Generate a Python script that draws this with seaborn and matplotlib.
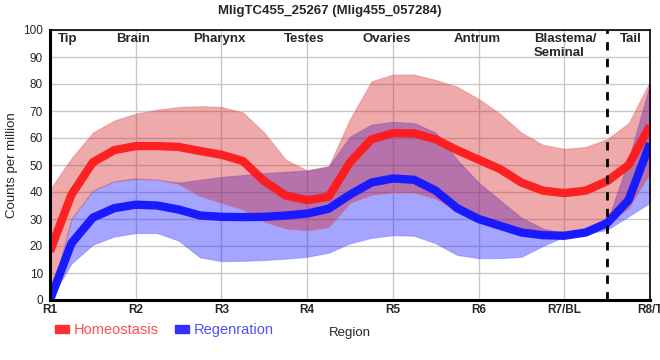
import numpy as np
import matplotlib
matplotlib.use("Agg")
import matplotlib.pyplot as plt
from matplotlib.patches import Patch
import seaborn as sns

# positions along the body (R1 .. R8/T), quarter-region steps
pos = [1.0, 1.25, 1.5, 1.75, 2.0, 2.25, 2.5, 2.75, 3.0, 3.25, 3.5, 3.75, 4.0, 4.25,
       4.5, 4.75, 5.0, 5.25, 5.5, 5.75, 6.0, 6.25, 6.5, 6.75, 7.0, 7.25, 7.5, 7.75, 8.0]

# Homeostasis: mean and band
homeo_mean = [18, 39, 51, 55.5, 57, 57, 56.7, 55.2, 53.8, 51.5, 44, 38.7, 37, 38.2,
              51, 59.5, 61.8, 61.7, 59.5, 55.5, 52, 48.5, 43.5, 40.5, 39.6, 40.5, 44, 50, 64.5]
homeo_hi = [41, 52.5, 62, 66.5, 69, 70.5, 71.5, 71.8, 71.5, 69.5, 62, 52, 48, 49.5,
            67, 81, 83.5, 83.5, 81.5, 79, 74.5, 69, 62, 57.5, 56, 56.7, 59.6, 65.5, 81]
homeo_lo = [0, 30, 40.5, 44, 44.8, 44.6, 43, 38.5, 36, 33.5, 29, 26.5, 25.8, 27,
            36, 39, 39.8, 39.8, 37.5, 33, 29.6, 27, 25, 24, 23.5, 25, 28.5, 34, 47]

# Regeneration: mean and band
regen_mean = [0, 21, 30.5, 34, 35.3, 35, 33.5, 31.3, 30.8, 30.7, 30.8, 31.3, 32, 33.8,
              39, 43.5, 45, 44.5, 40.5, 34, 30, 27.5, 25, 24, 23.8, 25, 28.5, 37, 58]
regen_hi = [0, 30, 40.5, 44, 45, 44.5, 43.5, 44.5, 45.6, 46.3, 47, 47.5, 48, 49.5,
            60.5, 65, 66, 65.5, 62, 52, 43.5, 37, 30.5, 26.5, 24.7, 25.5, 29, 52, 80]
regen_lo = [0, 13.5, 20.5, 23.5, 24.8, 24.8, 22, 15.8, 14.4, 14.5, 14.8, 15.3, 16, 17.5,
            21, 23, 24, 23.8, 21, 16.7, 15.5, 15.5, 16, 20, 23.5, 24.5, 26, 31, 36]

tick_pos = [1, 2, 3, 4, 5, 6, 7, 8]
tick_labels = ["R1", "R2", "R3", "R4", "R5", "R6", "R7/BL", "R8/T"]
regions = ["Tip", "Brain", "Pharynx", "Testes", "Ovaries", "Antrum", "Blastema/\nSeminal", "Tail"]
region_x = [1.21, 1.97, 2.97, 3.96, 4.93, 5.98, 7.01, 7.78]

sns.set_style("whitegrid")
plt.rcParams["font.family"] = ["Liberation Sans", "DejaVu Sans"]

fig = plt.figure(figsize=(6.6, 3.6), dpi=100)
ax = fig.add_axes([50 / 660, 60 / 360, 600 / 660, 270 / 360])

red = "#ff1a1a"
blue = "#1a1aff"

# regeneration first so the homeostasis band tints it purple
ax.fill_between(pos, regen_lo, regen_hi, color="#2020ff", alpha=0.4, lw=0.8, edgecolor="#6060ff")
sns.lineplot(x=pos, y=regen_mean, ax=ax, color=blue, lw=6, solid_capstyle="butt",
             solid_joinstyle="round")
ax.fill_between(pos, homeo_lo, homeo_hi, color="#d42020", alpha=0.38, lw=0.8, edgecolor="#e06060")
sns.lineplot(x=pos, y=homeo_mean, ax=ax, color=red, lw=6, alpha=0.95, solid_capstyle="butt",
             solid_joinstyle="round")

ax.axvline(7.5, color="black", ls=(0, (3, 3)), lw=2)

for x, name in zip(region_x, regions):
    ax.text(x, 98.8, name, ha="center", va="top", fontsize=9.5, fontweight="bold",
            multialignment="left")

ax.set_xlim(1, 8)
ax.set_ylim(0, 100)
ax.set_xticks(tick_pos)
ax.set_xticklabels(tick_labels, fontsize=8.5, fontweight="bold")
ax.set_yticks(range(0, 101, 10))
ax.tick_params(axis="y", labelsize=8.5, length=4, color="#999999", pad=1)
ax.tick_params(axis="x", length=0, pad=3)
ax.grid(True, color="#c8c8c8", lw=1)
ax.set_axisbelow(True)

for side in ["left", "bottom"]:
    ax.spines[side].set_color("black")
    ax.spines[side].set_linewidth(2.2)
for side in ["top", "right"]:
    ax.spines[side].set_color("black")
    ax.spines[side].set_linewidth(1.2)

ax.set_ylabel("Counts per million", fontsize=9.5)
ax.set_xlabel("Region", fontsize=9.5, labelpad=8)

fig.suptitle("MligTC455_25267 (Mlig455_057284)", x=0.5, y=0.985, fontsize=9.5, fontweight="bold")

handles = [Patch(color="#ff3030"), Patch(color="#3030ff")]
fig.legend(handles, ["Homeostasis", "Regenration"], loc="center left", bbox_to_anchor=(0.083, 0.083),
           ncol=2, frameon=False, fontsize=10.5, handlelength=1.0, handleheight=0.5,
           handletextpad=0.3, columnspacing=1.1, labelcolor=["#ff5050", "#5050ff"],
           borderaxespad=0, borderpad=0)

fig.savefig("out.png", dpi=100)
